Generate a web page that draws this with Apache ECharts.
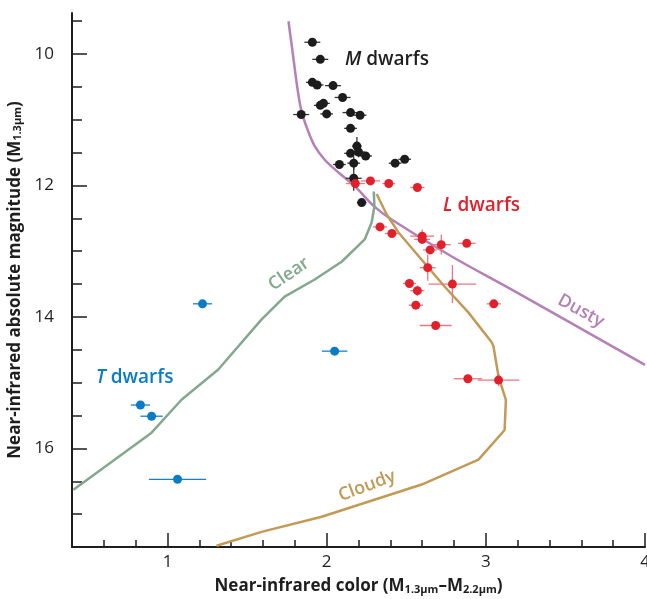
<!DOCTYPE html>
<html>
<head>
<meta charset="utf-8">
<script src="https://cdn.jsdelivr.net/npm/echarts@6/dist/echarts.min.js"></script>
<style>
  html, body { margin: 0; padding: 0; background: #fff; }
  #chart { width: 647px; height: 599px; }
</style>
</head>
<body>
<div id="chart"></div>
<script>
// rows: [colour, magnitude, colour error, magnitude error]
var mDwarfs = [
  [1.91, 9.82, 0.05, 0], [1.96, 10.08, 0.05, 0], [1.91, 10.43, 0.04, 0], [1.94, 10.47, 0.04, 0],
  [2.04, 10.48, 0.05, 0], [2.10, 10.66, 0.05, 0], [1.96, 10.78, 0.04, 0], [1.98, 10.75, 0.04, 0],
  [1.84, 10.92, 0.05, 0], [2.00, 10.91, 0.04, 0], [2.15, 10.89, 0.05, 0], [2.21, 10.93, 0.04, 0],
  [2.15, 11.13, 0.04, 0], [2.19, 11.40, 0.03, 0.14], [2.15, 11.51, 0.04, 0], [2.20, 11.49, 0.04, 0.08],
  [2.245, 11.55, 0.04, 0], [2.08, 11.68, 0.04, 0], [2.17, 11.66, 0.04, 0.1], [2.43, 11.66, 0.04, 0],
  [2.49, 11.60, 0.04, 0.04], [2.17, 11.89, 0.05, 0.19], [2.22, 12.26, 0.03, 0]
];
var lDwarfs = [
  [2.18, 11.97, 0.06, 0], [2.275, 11.93, 0.06, 0], [2.39, 11.97, 0.04, 0], [2.57, 12.03, 0.045, 0.05],
  [2.335, 12.63, 0.045, 0], [2.41, 12.73, 0.045, 0], [2.60, 12.77, 0.075, 0.1], [2.60, 12.82, 0.05, 0],
  [2.72, 12.90, 0.06, 0.15], [2.88, 12.88, 0.055, 0], [2.65, 12.98, 0.045, 0], [2.635, 13.25, 0.05, 0.2],
  [2.52, 13.49, 0.04, 0], [2.79, 13.50, 0.15, 0.29], [2.57, 13.60, 0.045, 0.08], [2.56, 13.82, 0.045, 0],
  [3.05, 13.80, 0.045, 0], [2.685, 14.13, 0.1, 0], [2.887, 14.94, 0.09, 0.06], [3.08, 14.96, 0.13, 0.09]
];
var tDwarfs = [
  [1.22, 13.80, 0.06, 0], [2.05, 14.52, 0.08, 0], [0.83, 15.34, 0.06, 0],
  [0.90, 15.51, 0.07, 0], [1.063, 16.47, 0.18, 0]
];

// model tracks
var dustyCurve = [
  [1.76, 9.50], [1.785, 9.95], [1.80, 10.23], [1.82, 10.58], [1.843, 10.88], [1.88, 11.15],
  [1.925, 11.40], [1.985, 11.60], [2.05, 11.75], [2.176, 12.01], [2.30, 12.32], [2.41, 12.52],
  [2.786, 13.08], [3.16, 13.58], [4.0, 14.73]
];
var clearCurve = [
  [0.409, 16.63], [0.90, 15.76], [1.088, 15.26], [1.319, 14.80], [1.59, 14.04], [1.736, 13.69],
  [1.925, 13.43], [2.094, 13.16], [2.239, 12.82], [2.283, 12.56], [2.30, 12.32], [2.296, 12.09]
];
var cloudyCurve = [
  [2.314, 12.13], [2.377, 12.44], [2.45, 12.71], [2.597, 13.13], [2.742, 13.54], [2.89, 13.93],
  [3.038, 14.39], [3.048, 14.45], [3.08, 14.91], [3.126, 15.26], [3.118, 15.72], [2.954, 16.17],
  [2.597, 16.55], [1.969, 17.04], [1.591, 17.27], [1.308, 17.48]
];

var yMinorTicks = [9.5, 10, 10.5, 11, 11.5, 12, 12.5, 13, 13.5, 14, 14.5, 15, 15.5, 16, 16.5, 17, 17.5];
var yMajorTicks = [10, 12, 14, 16];
var xMajorTicks = [1, 2, 3, 4];

var FONT = '"Open Sans", "Noto Sans", sans-serif';
var INK = '#1e1e1e';

var chart = echarts.init(document.getElementById('chart'));

function errorBars(rows, color) {
  return {
    type: 'custom',
    xAxisIndex: 0,
    yAxisIndex: 0,
    z: 3,
    silent: true,
    encode: { x: 0, y: 1 },
    renderItem: function (params, api) {
      var x = api.value(0), y = api.value(1), xe = api.value(2), ye = api.value(3);
      var kids = [];
      if (xe > 0) {
        var a = api.coord([x - xe, y]), b = api.coord([x + xe, y]);
        kids.push({ type: 'line', shape: { x1: a[0], y1: a[1], x2: b[0], y2: b[1] }, style: { stroke: color, lineWidth: 1.3 } });
      }
      if (ye > 0) {
        var c = api.coord([x, y - ye]), d = api.coord([x, y + ye]);
        kids.push({ type: 'line', shape: { x1: c[0], y1: c[1], x2: d[0], y2: d[1] }, style: { stroke: color, lineWidth: 1.3 } });
      }
      return { type: 'group', children: kids };
    },
    data: rows
  };
}

function dots(rows, color) {
  return {
    type: 'scatter', xAxisIndex: 0, yAxisIndex: 0, z: 4,
    symbolSize: 9, itemStyle: { color: color, opacity: 1 },
    data: rows.map(function (r) { return [r[0], r[1]]; })
  };
}

function track(rows, color, smooth) {
  return {
    type: 'line', xAxisIndex: 0, yAxisIndex: 0, z: 2,
    showSymbol: false, symbol: 'none', silent: true, smooth: smooth || false,
    lineStyle: { color: color, width: 2.5 },
    data: rows
  };
}

var nameRich = {
  b: { fontFamily: FONT, fontSize: 17, fontWeight: 'bold', color: INK },
  s: { fontFamily: FONT, fontSize: 11, fontWeight: 'bold', color: INK, verticalAlign: 'bottom', padding: [7, 0, 0, 0] }
};

function groupLabel(letter, color) {
  return {
    text: '{i|' + letter + '} dwarfs', fontFamily: FONT, fontSize: 19, fontWeight: 600, fill: color,
    rich: { i: { fontFamily: FONT, fontSize: 19, fontStyle: 'italic', fontWeight: 600, color: color } }
  };
}

var option = {
  backgroundColor: '#ffffff',
  animation: false,
  grid: { left: 72, right: 2, top: 13, bottom: 52, outerBoundsMode: 'none', containLabel: false },
  xAxis: [{
    type: 'value', min: 0.4, max: 4, interval: 0.2,
    axisLine: { show: true, lineStyle: { color: INK, width: 2 } },
    axisTick: { show: true, inside: true, length: 7, lineStyle: { color: INK, width: 1.5 } },
    axisLabel: { show: false },
    splitLine: { show: false }
  }, {
    type: 'value', min: 0.4, max: 4, position: 'bottom',
    axisLine: { show: false },
    axisTick: { show: true, inside: true, length: 14, customValues: xMajorTicks, lineStyle: { color: INK, width: 1.5 } },
    axisLabel: { show: true, customValues: xMajorTicks, margin: 7, fontFamily: FONT, fontSize: 17, color: INK },
    splitLine: { show: false },
    name: '{b|Near-infrared color (M}{s|1.3μm}{b|–M}{s|2.2μm}{b|)}',
    nameLocation: 'middle', nameGap: 30,
    nameTextStyle: { rich: nameRich }
  }],
  yAxis: [{
    type: 'value', inverse: true, min: 9.375, max: 17.5,
    axisLine: { show: true, lineStyle: { color: INK, width: 2 } },
    axisTick: { show: true, inside: true, length: 10, customValues: yMinorTicks, lineStyle: { color: INK, width: 1.5 } },
    axisLabel: { show: false },
    splitLine: { show: false }
  }, {
    type: 'value', inverse: true, min: 9.375, max: 17.5, position: 'left',
    axisLine: { show: false },
    axisTick: { show: true, inside: true, length: 15, customValues: yMajorTicks, lineStyle: { color: INK, width: 1.5 } },
    axisLabel: { show: true, customValues: yMajorTicks, margin: 18, fontFamily: FONT, fontSize: 17, color: INK },
    splitLine: { show: false },
    name: '{b|Near-infrared absolute magnitude (M}{s|1.3μm}{b|)}',
    nameLocation: 'middle', nameGap: 43,
    nameTextStyle: { rich: nameRich }
  }],
  series: [
    track(dustyCurve, '#b57fb8', 0.35),
    track(clearCurve, '#82a88e'),
    track(cloudyCurve, '#c29a56'),
    errorBars(mDwarfs, '#333333'),
    errorBars(lDwarfs, '#ea7880'),
    errorBars(tDwarfs, '#1a80c6'),
    dots(mDwarfs, '#1c1c1c'),
    dots(lDwarfs, '#e2202b'),
    dots(tDwarfs, '#0a7cc4')
  ],
  graphic: [
    { type: 'text', left: 345, top: 50, style: groupLabel('M', INK) },
    { type: 'text', left: 443, top: 196, style: groupLabel('L', '#e2202b') },
    { type: 'text', left: 96, top: 368, style: groupLabel('T', '#0a7cc4') },
    { type: 'text', x: 289, y: 274, rotation: 0.6, style: { text: 'Clear', fontFamily: FONT, fontSize: 18, fontWeight: 600, fill: '#82a88e', align: 'center', verticalAlign: 'middle' } },
    { type: 'text', x: 367, y: 486, rotation: 0.36, style: { text: 'Cloudy', fontFamily: FONT, fontSize: 18, fontWeight: 600, fill: '#c29a56', align: 'center', verticalAlign: 'middle' } },
    { type: 'text', x: 581, y: 311, rotation: -0.5, style: { text: 'Dusty', fontFamily: FONT, fontSize: 18, fontWeight: 600, fill: '#b57fb8', align: 'center', verticalAlign: 'middle' } }
  ]
};

chart.setOption(option);
</script>
</body>
</html>
